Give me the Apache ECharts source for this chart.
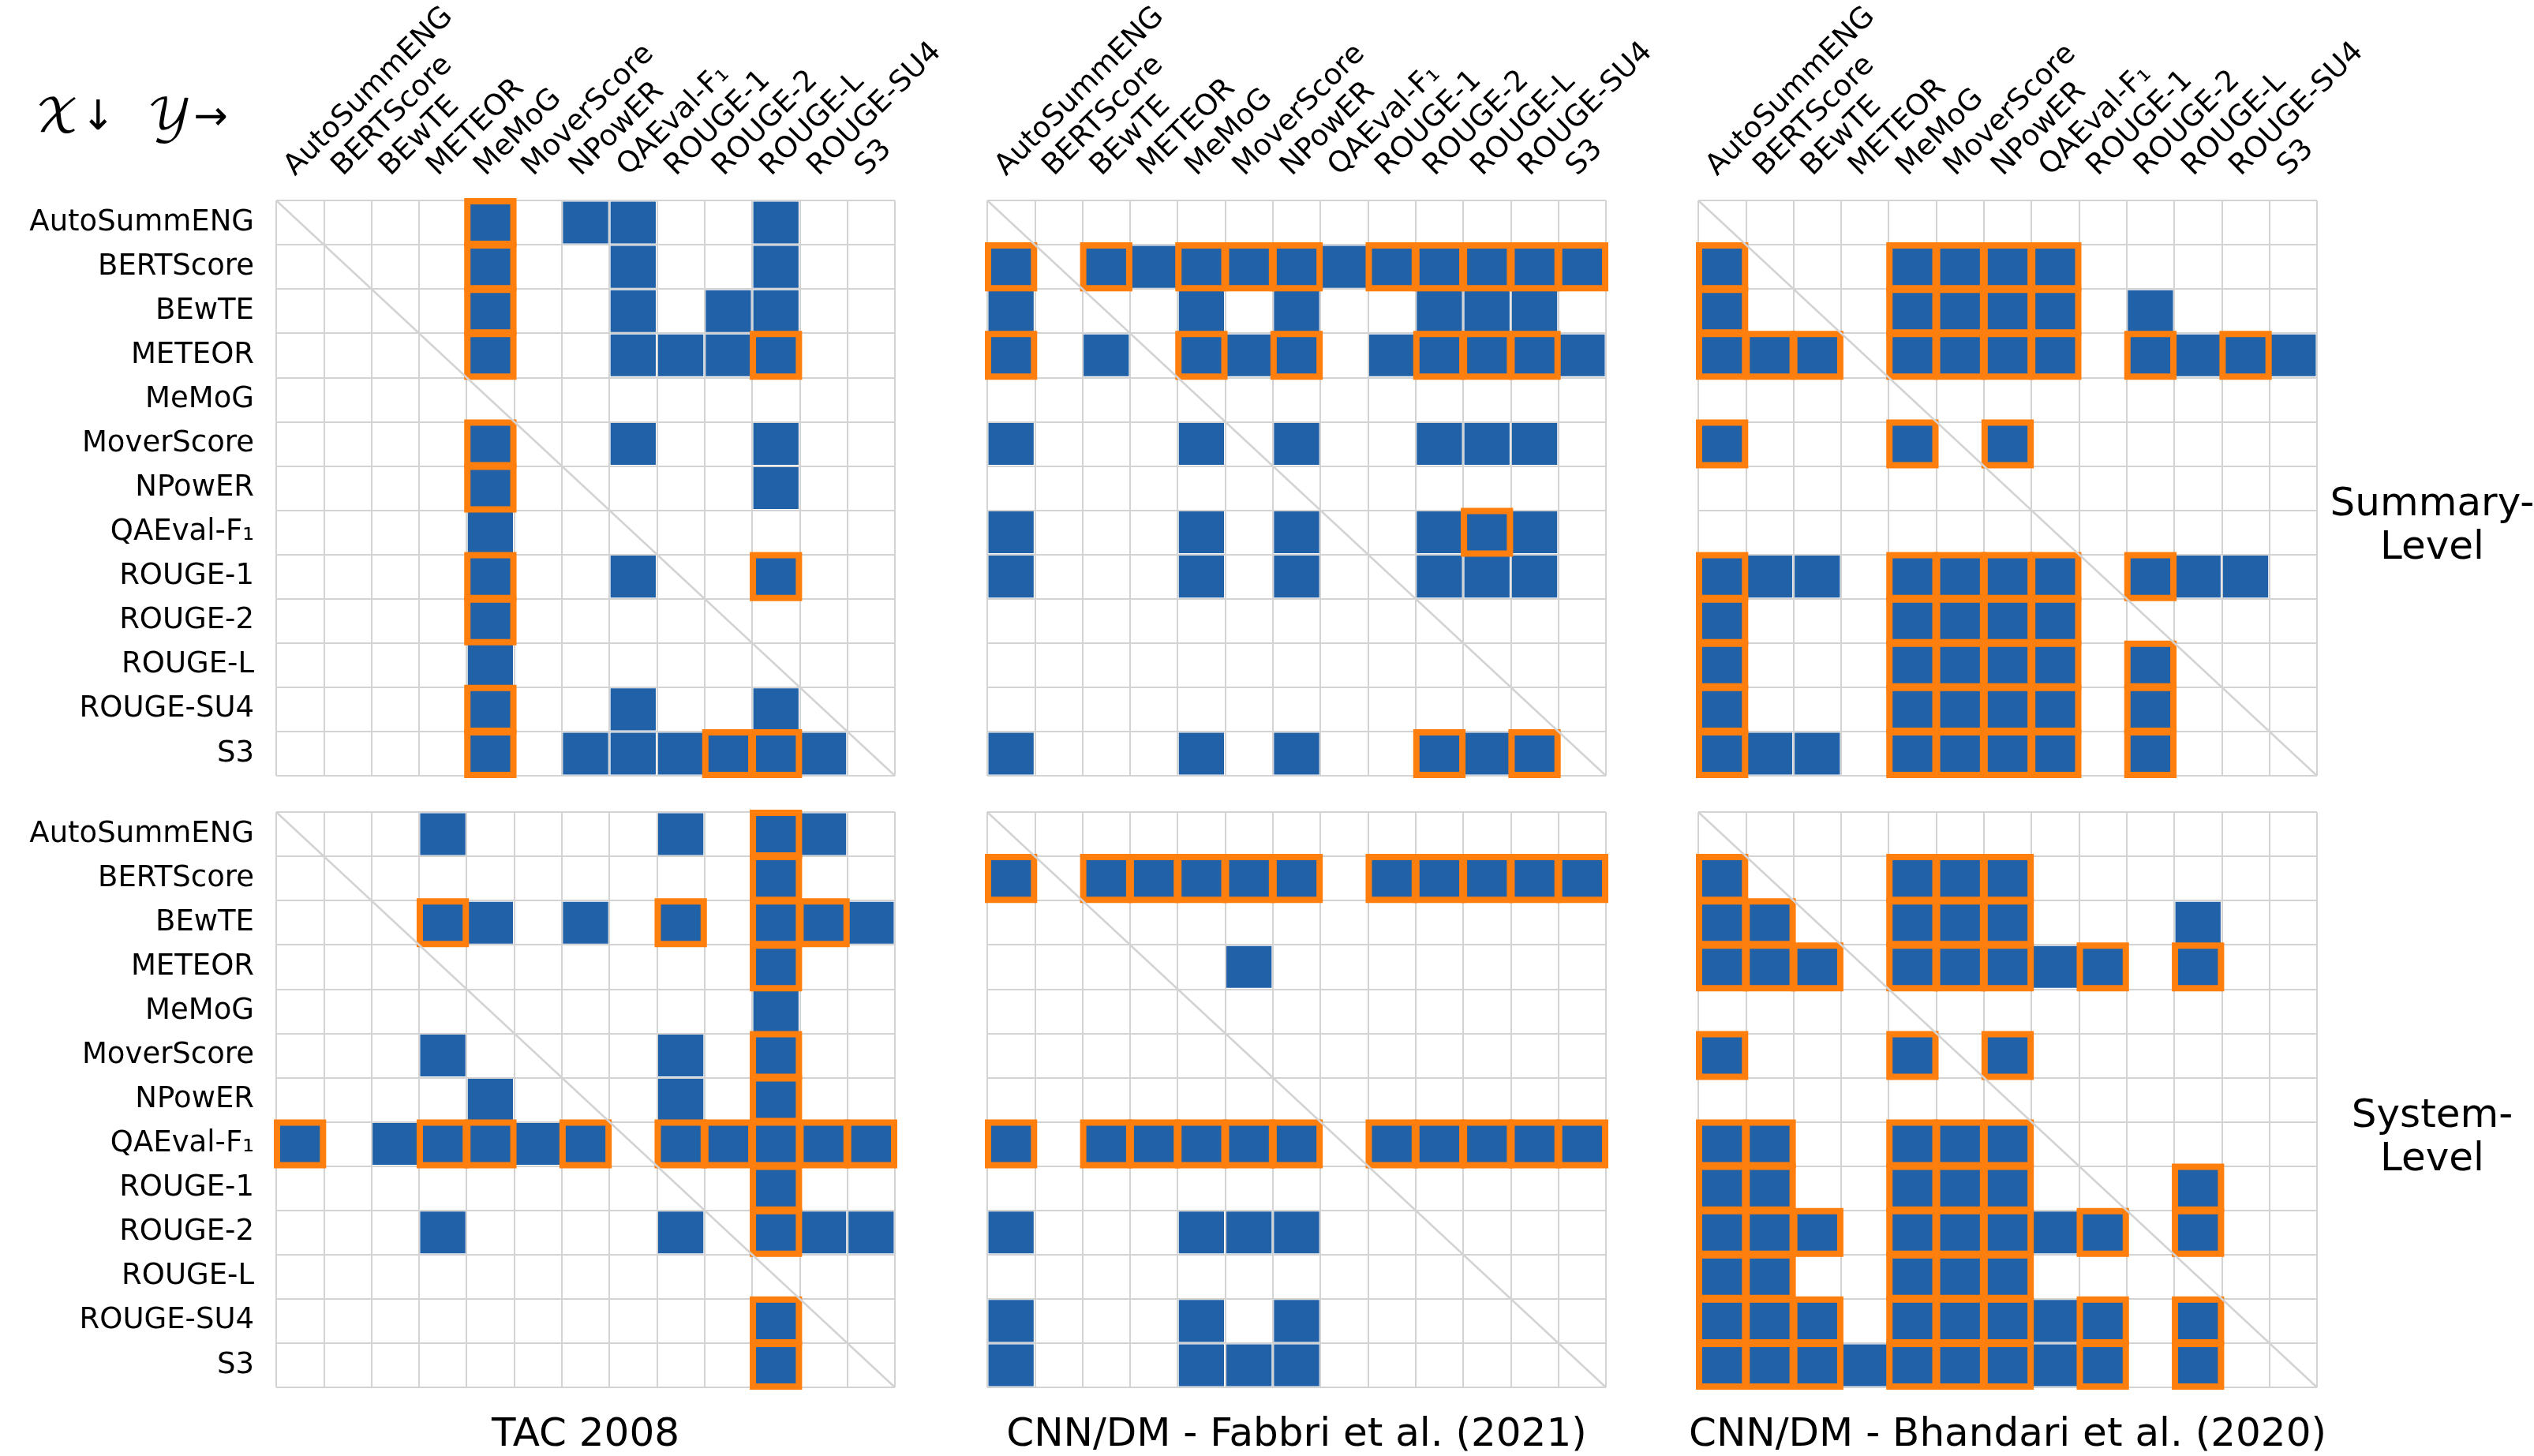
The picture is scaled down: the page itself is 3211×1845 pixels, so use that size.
<!DOCTYPE html>
<html>
<head>
<meta charset="utf-8">
<script src="https://cdn.jsdelivr.net/npm/echarts@6/dist/echarts.min.js"></script>
<style>
html, body { margin: 0; padding: 0; background: #fff; }
#main { width: 3211px; height: 1845px; }
</style>
</head>
<body>
<div id="main"></div>
<script>
// metric names (rows = X, columns = Y)
var metrics = ['AutoSummENG', 'BERTScore', 'BEwTE', 'METEOR', 'MeMoG', 'MoverScore', 'NPowER',
	'QAEval-F\u2081', 'ROUGE-1', 'ROUGE-2', 'ROUGE-L', 'ROUGE-SU4', 'S3'];
var datasetNames = ['TAC 2008', 'CNN/DM - Fabbri et al. (2021)', 'CNN/DM - Bhandari et al. (2020)'];
var levelNames = ['Summary-\nLevel', 'System-\nLevel'];

// cells: [row (X), column (Y), orange outline 0/1]
var tacSummary = [
	[0,4,1],[0,6,0],[0,7,0],[0,10,0],
	[1,4,1],[1,7,0],[1,10,0],
	[2,4,1],[2,7,0],[2,9,0],[2,10,0],
	[3,4,1],[3,7,0],[3,8,0],[3,9,0],[3,10,1],
	[5,4,1],[5,7,0],[5,10,0],
	[6,4,1],[6,10,0],
	[7,4,0],
	[8,4,1],[8,7,0],[8,10,1],
	[9,4,1],
	[10,4,0],
	[11,4,1],[11,7,0],[11,10,0],
	[12,4,1],[12,6,0],[12,7,0],[12,8,0],[12,9,1],[12,10,1],[12,11,0]
];
var fabbriSummary = [
	[1,0,1],[1,2,1],[1,3,0],[1,4,1],[1,5,1],[1,6,1],[1,7,0],[1,8,1],[1,9,1],[1,10,1],[1,11,1],[1,12,1],
	[2,0,0],[2,4,0],[2,6,0],[2,9,0],[2,10,0],[2,11,0],
	[3,0,1],[3,2,0],[3,4,1],[3,5,0],[3,6,1],[3,8,0],[3,9,1],[3,10,1],[3,11,1],[3,12,0],
	[5,0,0],[5,4,0],[5,6,0],[5,9,0],[5,10,0],[5,11,0],
	[7,0,0],[7,4,0],[7,6,0],[7,9,0],[7,10,1],[7,11,0],
	[8,0,0],[8,4,0],[8,6,0],[8,9,0],[8,10,0],[8,11,0],
	[12,0,0],[12,4,0],[12,6,0],[12,9,1],[12,10,0],[12,11,1]
];
var bhandariSummary = [
	[1,0,1],[1,4,1],[1,5,1],[1,6,1],[1,7,1],
	[2,0,1],[2,4,1],[2,5,1],[2,6,1],[2,7,1],[2,9,0],
	[3,0,1],[3,1,1],[3,2,1],[3,4,1],[3,5,1],[3,6,1],[3,7,1],[3,9,1],[3,10,0],[3,11,1],[3,12,0],
	[5,0,1],[5,4,1],[5,6,1],
	[8,0,1],[8,1,0],[8,2,0],[8,4,1],[8,5,1],[8,6,1],[8,7,1],[8,9,1],[8,10,0],[8,11,0],
	[9,0,1],[9,4,1],[9,5,1],[9,6,1],[9,7,1],
	[10,0,1],[10,4,1],[10,5,1],[10,6,1],[10,7,1],[10,9,1],
	[11,0,1],[11,4,1],[11,5,1],[11,6,1],[11,7,1],[11,9,1],
	[12,0,1],[12,1,0],[12,2,0],[12,4,1],[12,5,1],[12,6,1],[12,7,1],[12,9,1]
];
var tacSystem = [
	[0,3,0],[0,8,0],[0,10,1],[0,11,0],
	[1,10,1],
	[2,3,1],[2,4,0],[2,6,0],[2,8,1],[2,10,1],[2,11,1],[2,12,0],
	[3,10,1],
	[4,10,0],
	[5,3,0],[5,8,0],[5,10,1],
	[6,4,0],[6,8,0],[6,10,1],
	[7,0,1],[7,2,0],[7,3,1],[7,4,1],[7,5,0],[7,6,1],[7,8,1],[7,9,1],[7,10,1],[7,11,1],[7,12,1],
	[8,10,1],
	[9,3,0],[9,8,0],[9,10,1],[9,11,0],[9,12,0],
	[11,10,1],
	[12,10,1]
];
var fabbriSystem = [
	[1,0,1],[1,2,1],[1,3,1],[1,4,1],[1,5,1],[1,6,1],[1,8,1],[1,9,1],[1,10,1],[1,11,1],[1,12,1],
	[3,5,0],
	[7,0,1],[7,2,1],[7,3,1],[7,4,1],[7,5,1],[7,6,1],[7,8,1],[7,9,1],[7,10,1],[7,11,1],[7,12,1],
	[9,0,0],[9,4,0],[9,5,0],[9,6,0],
	[11,0,0],[11,4,0],[11,6,0],
	[12,0,0],[12,4,0],[12,5,0],[12,6,0]
];
var bhandariSystem = [
	[1,0,1],[1,4,1],[1,5,1],[1,6,1],
	[2,0,1],[2,1,1],[2,4,1],[2,5,1],[2,6,1],[2,10,0],
	[3,0,1],[3,1,1],[3,2,1],[3,4,1],[3,5,1],[3,6,1],[3,7,0],[3,8,1],[3,10,1],
	[5,0,1],[5,4,1],[5,6,1],
	[7,0,1],[7,1,1],[7,4,1],[7,5,1],[7,6,1],
	[8,0,1],[8,1,1],[8,4,1],[8,5,1],[8,6,1],[8,10,1],
	[9,0,1],[9,1,1],[9,2,1],[9,4,1],[9,5,1],[9,6,1],[9,7,0],[9,8,1],[9,10,1],
	[10,0,1],[10,1,1],[10,4,1],[10,5,1],[10,6,1],
	[11,0,1],[11,1,1],[11,2,1],[11,4,1],[11,5,1],[11,6,1],[11,7,0],[11,8,1],[11,10,1],
	[12,0,1],[12,1,1],[12,2,1],[12,3,0],[12,4,1],[12,5,1],[12,6,1],[12,7,0],[12,8,1],[12,10,1]
];

var panels = [
	[tacSummary, fabbriSummary, bhandariSummary],
	[tacSystem, fabbriSystem, bhandariSystem]
];

var blue = '#2161a8';
var orange = '#ff7f0e';
var gray = '#d3d3d3';
var font = 'DejaVu Sans';

var gridLefts = [350, 1251, 2152];
var gridTops = [254, 1029];
var gridW = 784, gridH = 729;

var grids = [], xAxes = [], yAxes = [], series = [];

function renderBlue(params, api) {
	var c = api.coord([api.value(0), api.value(1)]);
	var s = api.size([1, 1]);
	return {
		type: 'rect',
		shape: { x: c[0] - s[0] / 2 + 1.5, y: c[1] - s[1] / 2 + 1.5, width: s[0] - 3, height: s[1] - 3 },
		style: { fill: blue }
	};
}
function renderOrange(params, api) {
	var c = api.coord([api.value(0), api.value(1)]);
	var s = api.size([1, 1]);
	return {
		type: 'rect',
		shape: { x: c[0] - s[0] / 2 + 1, y: c[1] - s[1] / 2 + 1, width: s[0] - 2, height: s[1] - 2 },
		style: { fill: null, stroke: orange, lineWidth: 8 }
	};
}
function renderDiag(params, api) {
	var cs = params.coordSys;
	return {
		type: 'line',
		shape: { x1: cs.x, y1: cs.y, x2: cs.x + cs.width, y2: cs.y + cs.height },
		style: { stroke: gray, lineWidth: 2.5 }
	};
}

var idx = 0;
for (var r = 0; r < 2; r++) {
	for (var c = 0; c < 3; c++) {
		grids.push({ left: gridLefts[c], top: gridTops[r], width: gridW, height: gridH, containLabel: false });
		xAxes.push({
			type: 'category', gridIndex: idx, position: 'top', data: metrics, boundaryGap: true,
			axisLine: { show: false }, axisTick: { show: false },
			splitLine: { show: true, interval: 0, lineStyle: { color: gray, width: 2 } },
			axisLabel: { show: r === 0, interval: 0, rotate: -45, margin: 24, verticalAlign: 'bottom', fontSize: 37, fontFamily: font, color: '#000' }
		});
		yAxes.push({
			type: 'category', gridIndex: idx, inverse: true, data: metrics, boundaryGap: true,
			axisLine: { show: false }, axisTick: { show: false },
			splitLine: { show: true, interval: 0, lineStyle: { color: gray, width: 2 } },
			axisLabel: { show: c === 0, interval: 0, margin: 28, fontSize: 37, fontFamily: font, color: '#000' }
		});
		var cells = panels[r][c];
		var blueData = cells.map(function(d) { return [d[1], d[0]]; });
		var orangeData = cells.filter(function(d) { return d[2] === 1; }).map(function(d) { return [d[1], d[0]]; });
		series.push({ type: 'custom', xAxisIndex: idx, yAxisIndex: idx, z: 2, renderItem: renderBlue, data: blueData });
		series.push({ type: 'custom', xAxisIndex: idx, yAxisIndex: idx, z: 3, renderItem: renderOrange, data: orangeData });
		series.push({ type: 'custom', xAxisIndex: idx, yAxisIndex: idx, z: 4, renderItem: renderDiag, data: [[0, 0]] });
		idx++;
	}
}

var graphics = [];
for (var c = 0; c < 3; c++) {
	graphics.push({
		type: 'text', x: gridLefts[c] + gridW / 2, y: 1819,
		style: { text: datasetNames[c], font: '50px "DejaVu Sans"', fill: '#000', textAlign: 'center', textVerticalAlign: 'middle' }
	});
}
for (var r = 0; r < 2; r++) {
	graphics.push({
		type: 'text', x: 3082, y: [668, 1443][r],
		style: { text: levelNames[r], font: '50px "DejaVu Sans"', lineHeight: 55, fill: '#000', textAlign: 'center', textVerticalAlign: 'middle' }
	});
}
graphics.push({
	type: 'text', x: 45, y: 150,
	style: {
		text: '{m|\uD835\uDCB3}{a|\u2193}{s| }{m|\uD835\uDCB4}{a|\u2192}',
		textAlign: 'left', textVerticalAlign: 'middle',
		rich: {
			m: { font: '58px "DejaVu Math TeX Gyre", "DejaVu Serif"', fill: '#000' },
			a: { font: '52px "DejaVu Sans"', fill: '#000', padding: [0, 0, 0, 2] },
			s: { font: '46px "DejaVu Sans"', width: 40 }
		}
	}
});

var myChart = echarts.init(document.getElementById('main'));
myChart.setOption({
	animation: false,
	backgroundColor: '#fff',
	grid: grids,
	xAxis: xAxes,
	yAxis: yAxes,
	series: series,
	graphic: graphics
});
</script>
</body>
</html>
